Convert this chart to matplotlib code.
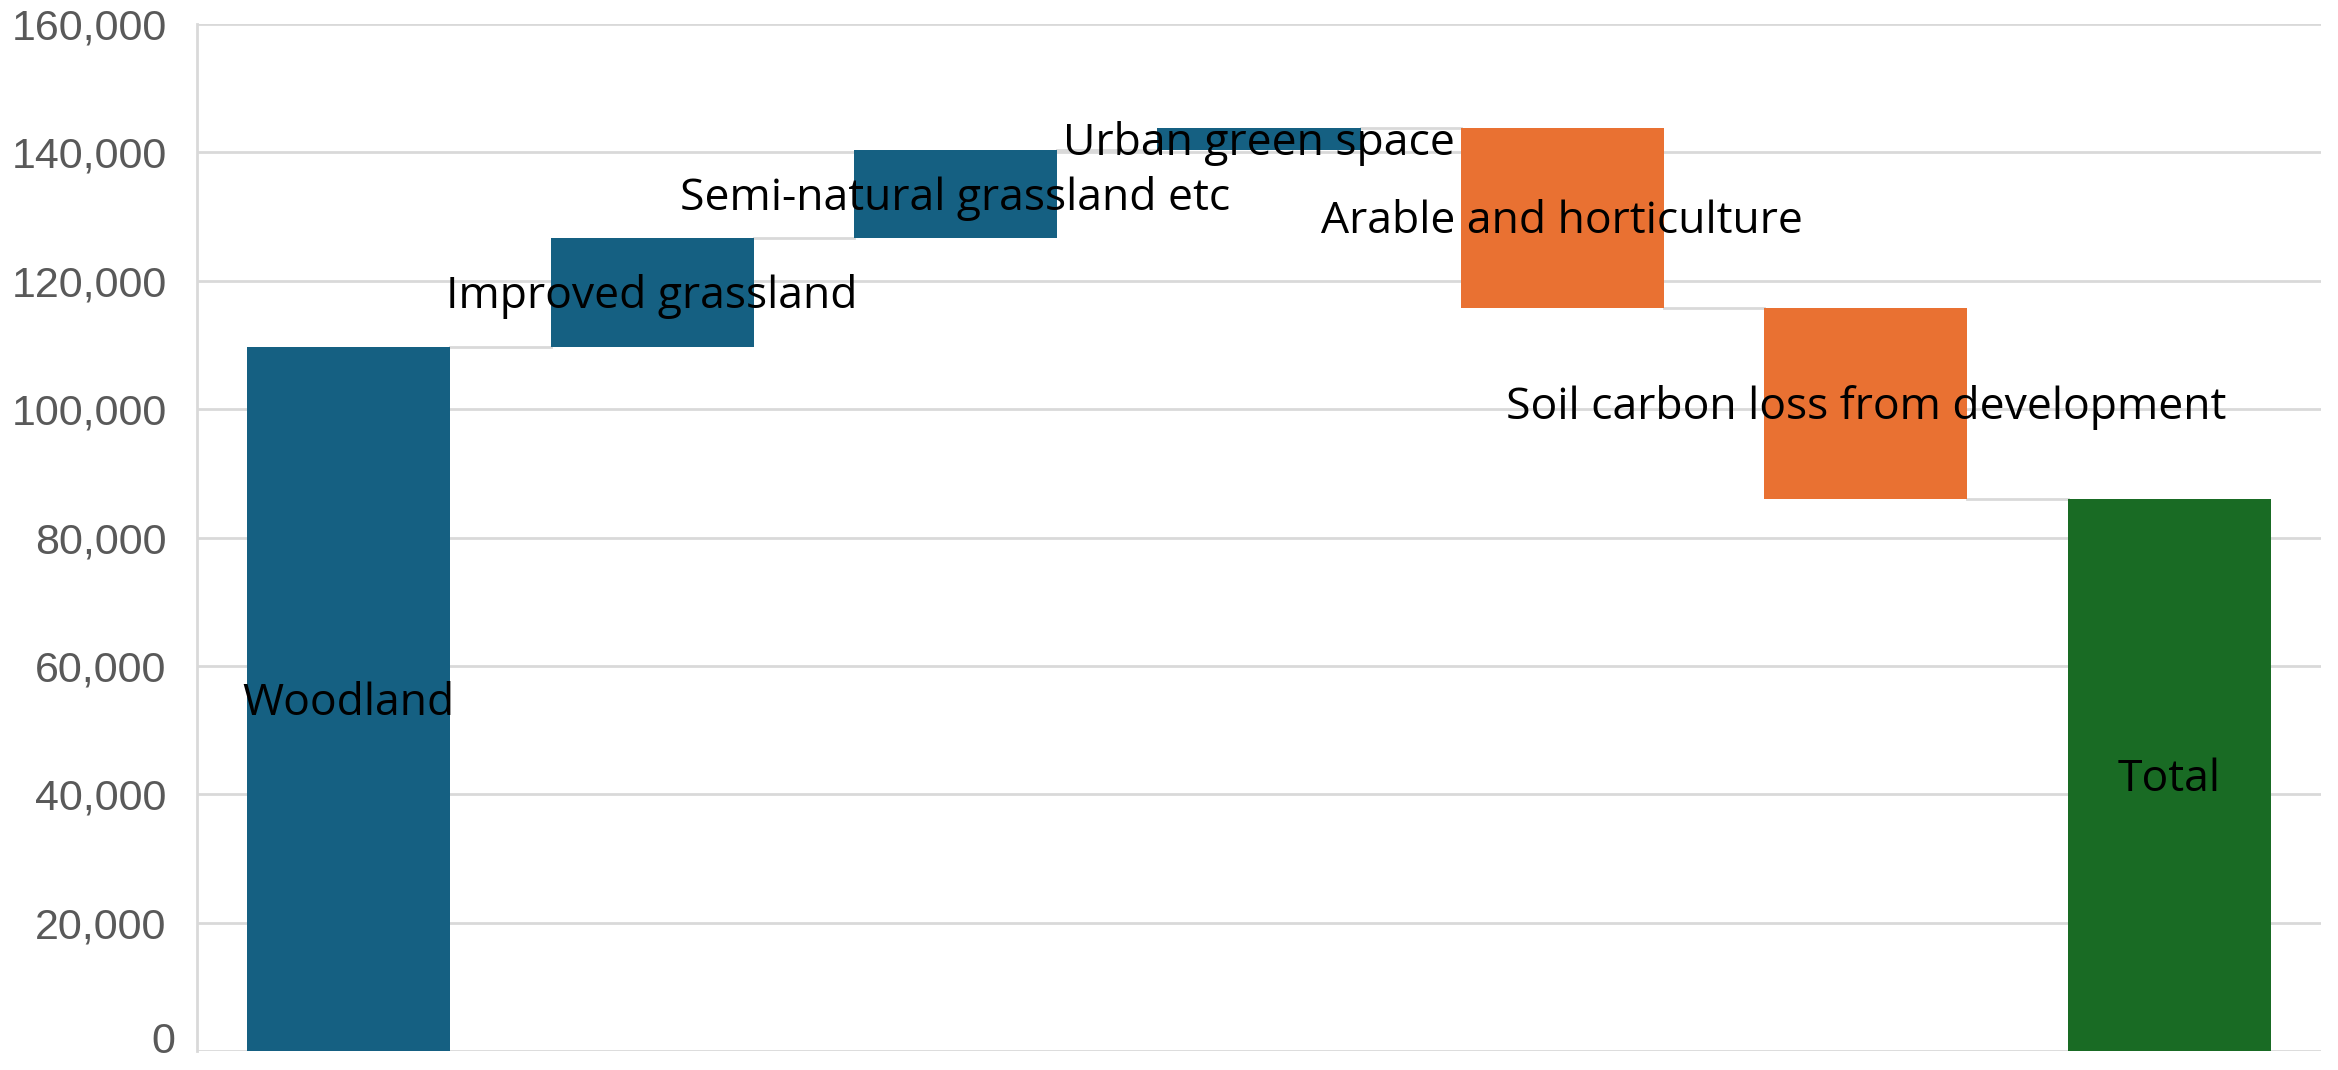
import matplotlib
matplotlib.use("Agg")
import matplotlib.pyplot as plt
from matplotlib.ticker import FuncFormatter, MultipleLocator

# Land-use contributions, in order along the waterfall
categories = [
    "Woodland",
    "Improved grassland",
    "Semi-natural grassland etc",
    "Urban green space",
    "Arable and horticulture",
    "Soil carbon loss from development",
    "Total",
]
changes = [109700, 16900, 13700, 3500, -28000, -29800]
total_value = 86000

BLUE = "#156082"
ORANGE = "#E97132"
GREEN = "#196B24"
GRID = "#D9D9D9"
TICK_GREY = "#595959"

# Running totals give each floating bar its base
bottoms = []
heights = []
colors = []
running = 0
for change in changes:
    if change >= 0:
        bottoms.append(running)
        heights.append(change)
        colors.append(BLUE)
    else:
        bottoms.append(running + change)
        heights.append(-change)
        colors.append(ORANGE)
    running += change
bottoms.append(0)
heights.append(total_value)
colors.append(GREEN)

fig = plt.figure(figsize=(23.38, 10.7), dpi=100)
ax = fig.add_axes([0.0843, 0.0175, 0.9084, 0.9601])

x = list(range(len(categories)))
width = 0.67
ax.bar(x, heights, bottom=bottoms, width=width, color=colors, zorder=3)

# Connector lines between consecutive bars at the running level
level = 0
for i, change in enumerate(changes):
    level += change
    ax.plot([i + width / 2, i + 1 - width / 2], [level, level],
            color=GRID, linewidth=2, zorder=2)

for i, label in enumerate(categories):
    ax.annotate(label, (i, bottoms[i] + heights[i] / 2), xytext=(0, -3),
                textcoords="offset points", ha="center", va="center",
                fontsize=32, family="Open Sans", color="black", zorder=4)

ax.set_xlim(-0.5, len(categories) - 0.5)
ax.set_ylim(0, 160000)
ax.yaxis.set_major_locator(MultipleLocator(20000))
# The zero label is drawn separately, a little higher, so it stays inside the figure
ax.yaxis.set_major_formatter(FuncFormatter(lambda v, _: f"{int(v):,}" if v > 0 else ""))
ax.annotate("0", (0, 0), xycoords="axes fraction", xytext=(-15.8, 7),
            textcoords="offset points", ha="right", va="center",
            fontsize=31, family="Liberation Sans", color=TICK_GREY)
ax.grid(axis="y", color=GRID, linewidth=2, zorder=0)
ax.set_axisbelow(True)

ax.set_xticks([])
ax.tick_params(axis="y", length=0, pad=22, labelsize=31, labelcolor=TICK_GREY)
for lbl in ax.get_yticklabels():
    lbl.set_family("Liberation Sans")

for side in ["top", "right", "bottom"]:
    ax.spines[side].set_visible(False)
ax.spines["left"].set_color(GRID)
ax.spines["left"].set_linewidth(2)

fig.savefig("out.png", dpi=100)
